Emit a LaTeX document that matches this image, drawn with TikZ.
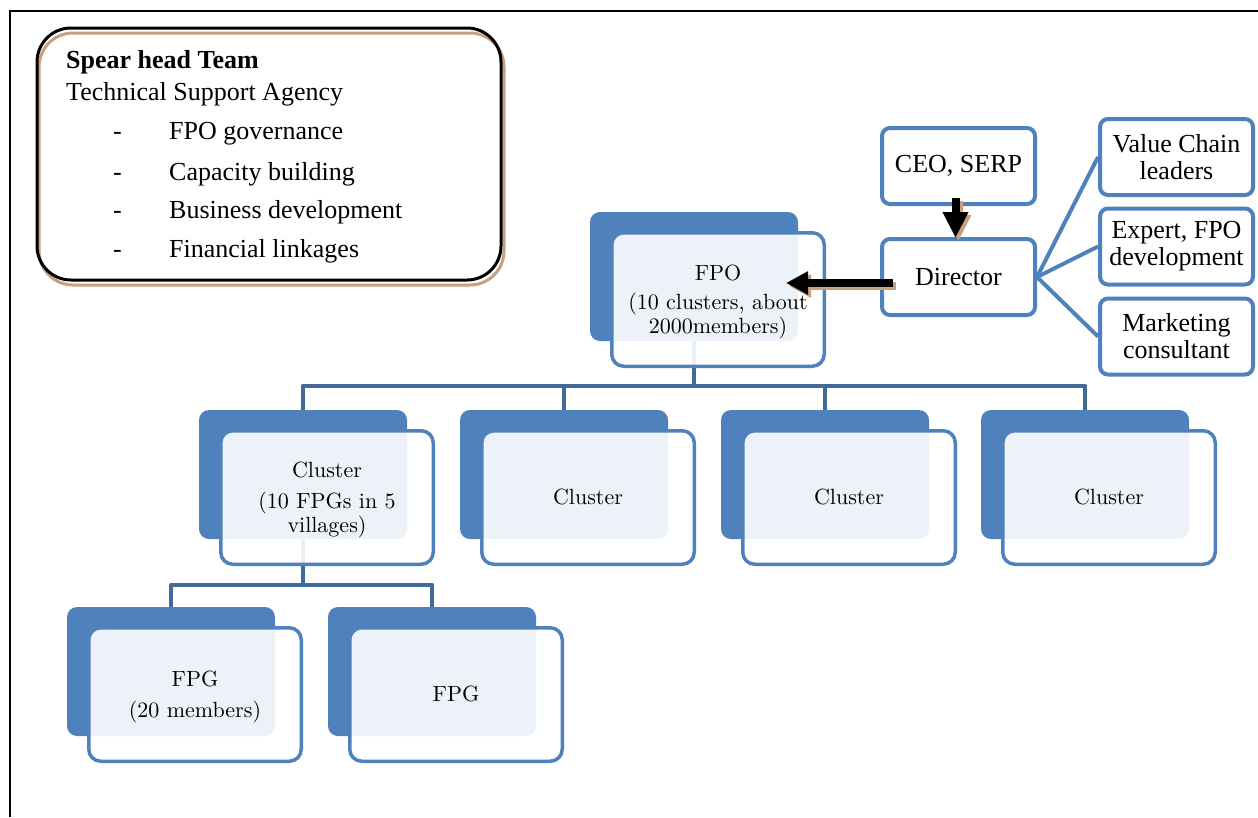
\documentclass[tikz,border=0pt]{standalone}
\usepackage{fontspec}
\usepackage{graphicx}
\newfontfamily\tnr{Liberation Serif}
\usetikzlibrary{arrows.meta,backgrounds,calc}

\definecolor{acc}{HTML}{4F81BD}
\definecolor{conncol}{HTML}{41699A}
\definecolor{shadowtan}{HTML}{C8A07E}

% card text: 10pt design size enlarged, as in the chart's own lettering
\newcommand\cardtext[1]{\scalebox{2.2}{\fontsize{10}{10.9}\selectfont
  \begin{tabular}{@{}c@{}}#1\end{tabular}}}

% one unit of the organisation chart: solid back card plus translucent front card
\newcommand\orgunit[4]{%
  \node[backcard] (#1B) at (#2,#3) {};
  \node[frontcard] (#1F) at (#2+20,#3+19) {};
  \node[cardlabel] (#1T) at ($(#1F.center)+(0,2.5)$) {\cardtext{#4}};
}

\begin{document}
\begin{tikzpicture}[x=1pt,y=-1pt,
  backcard/.style={rectangle, rounded corners=10pt, fill=acc, draw=none,
    minimum width=208pt, minimum height=129pt, inner sep=0pt, outer sep=0pt,
    anchor=north west},
  frontcard/.style={rectangle, rounded corners=12pt, draw=acc, line width=3.5pt,
    fill=white, fill opacity=0.9,
    minimum width=212.5pt, minimum height=133.5pt, inner sep=0pt,
    anchor=north west},
  cardlabel/.style={inner sep=0pt, align=center},
  rolebox/.style={rectangle, rounded corners=8pt, draw=acc, line width=4pt,
    fill=white, minimum width=153pt, minimum height=76pt, inner sep=0pt,
    align=center, font=\tnr\fontsize{26}{27}\selectfont},
  conn/.style={draw=conncol, line width=4.5pt, line join=round},
  side/.style={draw=acc, line width=4pt},
  spear/.style={font=\tnr\fontsize{26}{27}\selectfont, anchor=base west, inner sep=0pt},
]
\useasboundingbox (0,0) rectangle (1258,817);

% page frame
\draw[line width=2pt] (10,817) -- (10,10.5) -- (1258,10.5);

% spear head team panel
\path[fill=white, rounded corners=34pt] (37,28) rectangle (501,280);
\draw[shadowtan, line width=3pt, rounded corners=34pt] (39,33) rectangle (504,285);
\node[draw=black, line width=3pt, rounded corners=34pt, minimum width=464pt,
  minimum height=252pt, inner sep=0pt, anchor=north west] (spearbox) at (35.5,26.5) {};
\node[spear, font=\tnr\bfseries\fontsize{26}{27}\selectfont] (sh) at (66,68) {Spear head Team};
\node[spear] (tsa) at (66,100) {Technical Support Agency};
\node[spear] (d1) at (113,139) {-};
\node[spear] (i1) at (169,139) {FPO governance};
\node[spear] (d2) at (113,180) {-};
\node[spear] (i2) at (169,180) {Capacity building};
\node[spear] (d3) at (113,218) {-};
\node[spear] (i3) at (169,218) {Business development};
\node[spear] (d4) at (113,257) {-};
\node[spear] (i4) at (169,257) {Financial linkages};

% hierarchy
\orgunit{fpo}{590}{212}{FPO\\[2.5pt](10 clusters, about\\2000members)}
\orgunit{ca}{199}{410}{Cluster\\[3pt](10 FPGs in 5\\villages)}
\orgunit{cb}{460}{410}{Cluster}
\orgunit{cc}{721}{410}{Cluster}
\orgunit{cd}{981}{410}{Cluster}
\orgunit{ga}{67}{607}{FPG\\[3pt](20 members)}
\orgunit{gb}{328}{607}{FPG}

\begin{pgfonlayer}{background}
  \coordinate (busA) at (0,386);
  \coordinate (busB) at (0,585);
  \draw[conn] (fpoB.center) -- (fpoB.center |- busA);
  \draw[conn] (caB.center) |- (cdB.center |- busA) -- (cdB.center);
  \draw[conn] (cbB.center |- busA) -- (cbB.center);
  \draw[conn] (ccB.center |- busA) -- (ccB.center);
  \draw[conn] (caB.center) -- (caB.center |- busB);
  \draw[conn] (gaB.center) |- (gbB.center |- busB) -- (gbB.center);
\end{pgfonlayer}

% management
\node[rolebox] (ceo) at (958.5,166) {CEO, SERP};
\node[rolebox] (dir) at (958.5,277) {Director};
\node[rolebox] (vcl) at (1176.5,157) {Value Chain\\leaders};
\node[rolebox] (exp) at (1176.5,246.5) {Expert, FPO\\development};
\node[rolebox] (mkt) at (1176.5,336.5) {Marketing\\consultant};

\draw[side] (dir.east) -- (vcl.west);
\draw[side] (dir.east) -- (exp.west);
\draw[side] (dir.east) -- (mkt.west);

% block arrows with their soft shadows
\coordinate (a1s) at ($(ceo.south)+(-3,-8)$);
\coordinate (a1e) at ($(dir.north)+(-3,1)$);
\draw[shadowtan, line width=8pt, -{Triangle[width=24pt,length=26pt]}]
  ($(a1s)+(3,3)$) -- ($(a1e)+(3,3)$);
\draw[black, line width=8pt, -{Triangle[width=24pt,length=26pt]}] (a1s) -- (a1e);

\coordinate (a2s) at ($(dir.west)+(13,6)$);
\coordinate (fpoTip) at ($(fpoF.east)+(-40,0)$);
\coordinate (a2e) at (fpoTip |- a2s);
\draw[shadowtan, line width=8pt, -{Triangle[width=22pt,length=22pt]}]
  ($(a2s)+(3,3)$) -- ($(a2e)+(3,3)$);
\draw[black, line width=8pt, -{Triangle[width=22pt,length=22pt]}] (a2s) -- (a2e);
\end{tikzpicture}
\end{document}
